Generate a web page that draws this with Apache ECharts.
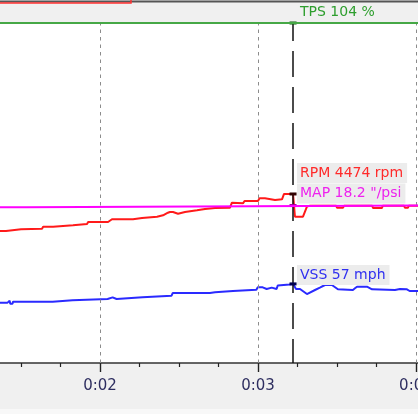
<!DOCTYPE html>
<html><head><meta charset="utf-8">
<script src="https://cdn.jsdelivr.net/npm/echarts@6/dist/echarts.min.js"></script>
<style>html,body{margin:0;padding:0;background:#f0f0f0;overflow:hidden}#c{width:418px;height:414px}</style>
</head><body><div id="c"></div>
<script>
// ---- data (time in seconds) ----
const timeMin = 1.367, timeMax = 4.013;
const majorTicks = [2, 3, 4];
const minorTicks = [1.5, 1.75, 2.25, 2.5, 2.75, 3.25, 3.5, 3.75];
const cursorTime = 3.222;

const channelNames = ['RPM', 'VSS', 'MAP', 'TPS'];
const readoutValues = [4474, 57, 18.2, 104];
const readoutUnits = ['rpm', 'mph', '"/psi', '%'];

const rpmData = [[1.367,3494],[1.405,3494],[1.411,3539],[1.500,3539],[1.506,3555],[1.633,3555],[1.640,3608],[1.703,3608],[1.710,3645],[1.829,3645],[1.836,3679],[1.918,3679],[1.925,3732],[2.051,3732],[2.076,3804],[2.209,3804],[2.215,3838],[2.266,3838],[2.272,3873],[2.361,3873],[2.367,3910],[2.399,3910],[2.430,3978],[2.443,3997],[2.462,3997],[2.470,3952],[2.494,3952],[2.500,3997],[2.538,3997],[2.545,4042],[2.614,4042],[2.620,4076],[2.665,4076],[2.672,4111],[2.728,4100],[2.823,4111],[2.835,4243],[2.842,4227],[2.905,4227],[2.915,4288],[3.000,4288],[3.010,4360],[3.044,4360],[3.052,4315],[3.108,4315],[3.120,4333],[3.152,4333],[3.165,4474],[3.222,4474],[3.234,3873],[3.285,3873],[3.310,4140],[3.330,4165],[3.495,4165],[3.500,4110],[3.538,4110],[3.545,4165],[3.723,4165],[3.728,4105],[3.785,4105],[3.790,4165],[3.925,4165],[3.930,4110],[3.949,4110],[3.955,4165],[4.013,4165]];
const vssData = [[1.367,43.5],[1.415,43.5],[1.420,44.9],[1.428,44.9],[1.432,42.7],[1.446,42.7],[1.450,44.2],[1.700,44.2],[1.706,45.2],[1.826,45.2],[1.832,46.1],[2.048,46.1],[2.054,47.3],[2.080,47.3],[2.085,46.1],[2.105,46.1],[2.110,47.3],[2.269,47.3],[2.275,48.5],[2.453,48.5],[2.460,50.4],[2.587,50.4],[2.592,49.2],[2.598,49.2],[2.603,50.4],[2.696,50.4],[2.728,50.9],[2.735,51.9],[2.842,51.9],[2.849,52.8],[2.990,52.8],[2.998,54.5],[3.030,54.5],[3.036,53.3],[3.055,53.3],[3.060,54.3],[3.087,54.3],[3.092,53.3],[3.118,53.3],[3.125,55.8],[3.200,56.5],[3.222,57],[3.241,53.3],[3.266,53.3],[3.310,49.7],[3.361,52.6],[3.392,54.3],[3.424,56.2],[3.468,56.2],[3.506,53.1],[3.601,52.6],[3.614,53.8],[3.627,55],[3.690,55],[3.722,53.1],[3.730,52.6],[3.867,52.6],[3.899,53.3],[3.943,53.1],[3.960,51.9],[4.013,51.9]];
const mapData = [[1.367,18.0],[1.535,18.0],[1.540,18.2],[4.013,18.2]];
const tpsData = [[1.367,104],[4.013,104]];

// ---- styles ----
const lineColors = ['#ff1a1a', '#2a2aff', '#ff00ff', '#46a846'];
const textColors = ['#ff2a2a', '#3030f0', '#ee22ee', '#2e9e2e'];
const markerColors = ['#300000', '#000050', '#a000a0', '#0a5a0a'];
const lineWidths = [2, 2, 2, 2];
const axisMax = [9000, 245, 39.3, 104];
const labelOffsets = [[7.5,-9.5],[7.5,2.6],[7.5,-0.5],[7.5,0.5]];
const seriesData = [rpmData, vssData, mapData, tpsData];
const FONT = 'DejaVu Sans';

const chart = echarts.init(document.getElementById('c'), null, {renderer:'canvas'});

const series = channelNames.map((name, i) => ({
  name, type: 'line', xAxisIndex: 0, yAxisIndex: i, data: seriesData[i], showSymbol: false, symbol: 'none',
  clip: false, animation: false, z: 3 + i,
  lineStyle: {color: lineColors[i], width: lineWidths[i]},
  markPoint: {
    symbol: 'rect', symbolSize: [7, 3], animation: false, silent: true,
    itemStyle: {color: markerColors[i]},
    data: [{coord: [cursorTime, readoutValues[i]], value: readoutValues[i]}],
    label: {
      show: true, position: labelOffsets[i], align: 'left', verticalAlign: 'bottom',
      formatter: name + ' ' + readoutValues[i] + ' ' + readoutUnits[i],
      color: textColors[i], fontFamily: FONT, fontSize: 14, lineHeight: 16,
      backgroundColor: i === 3 ? 'transparent' : '#ececec', padding: [2, 4, 2, 3]
    }
  }
}));

series[0].markLine = {
  silent: true, animation: false, symbol: 'none', label: {show: false},
  lineStyle: {type: [3.5, 4], color: '#8c8c8c', width: 1},
  data: majorTicks.map(v => ({xAxis: v}))
};
series[0].z = 2;
series[3].markLine = {
  silent: true, animation: false, symbol: 'none', label: {show: false},
  lineStyle: {type: [26, 10], dashOffset: 2, color: '#111', width: 1.5},
  data: [[{coord: [cursorTime, 0]}, {coord: [cursorTime, axisMax[3]]}]]
};

// tick strip below the axis line (grid 1), ticks drawn through its axes
series.push({
  type: 'line', xAxisIndex: 1, yAxisIndex: 4, data: [[2, 20]], showSymbol: false, symbol: 'none',
  animation: false, silent: true, lineStyle: {width: 0},
  markLine: {
    silent: true, animation: false, symbol: 'none', label: {show: false},
    lineStyle: {type: 'solid', color: '#222', width: 1.2},
    data: majorTicks.map(v => [{coord: [v, 0]}, {coord: [v, 9]}])
      .concat(minorTicks.map(v => [{coord: [v, 0]}, {coord: [v, 4]}]))
  }
});

chart.setOption({
  animation: false,
  backgroundColor: '#f0f0f0',
  grid: [
    {left: 0, right: 0, top: 23, bottom: 51, containLabel: false, outerBoundsMode: 'none',
     show: true, backgroundColor: '#ffffff', borderWidth: 0},
    {left: 0, right: 0, top: 363, height: 10, containLabel: false, outerBoundsMode: 'none', show: false}
  ],
  xAxis: [
    {type: 'value', gridIndex: 0, min: timeMin, max: timeMax, position: 'bottom',
     axisLine: {show: true, lineStyle: {color: '#333', width: 1.5}},
     axisTick: {show: true, customValues: majorTicks, length: 9, lineStyle: {color: '#222', width: 1.2}},
     axisLabel: {customValues: majorTicks, formatter: v => '0:0' + Math.round(v), color: '#2e2e60',
                 fontFamily: FONT, fontSize: 15, margin: 16},
     splitLine: {show: false}},
    {type: 'value', gridIndex: 1, min: timeMin, max: timeMax, show: false}
  ],
  yAxis: axisMax.map(m => ({type: 'value', gridIndex: 0, min: 0, max: m, show: false, splitLine: {show: false}}))
    .concat([{type: 'value', gridIndex: 1, min: 0, max: 10, inverse: true, show: false}]),
  graphic: [
    {type: 'line', shape: {x1: 0, y1: 1.5, x2: 418, y2: 1.5}, style: {stroke: '#555', lineWidth: 2}, z: 10},
    {type: 'rect', shape: {x: -5, y: -10, width: 136, height: 13}, style: {fill: 'none', stroke: '#ff3030', lineWidth: 1.5}, z: 11},
    {type: 'rect', shape: {x: 0, y: 409, width: 418, height: 5}, style: {fill: '#f8f8f8'}, z: 10}
  ],
  series
});
</script></body></html>
